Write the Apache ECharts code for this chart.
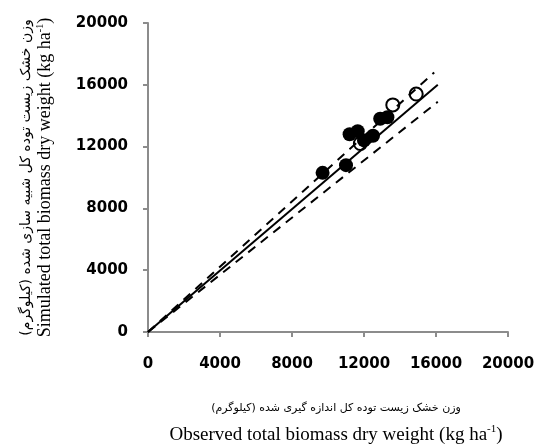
<!DOCTYPE html>
<html><head><meta charset="utf-8">
<script src="https://cdn.jsdelivr.net/npm/echarts@6/dist/echarts.min.js"></script>
<style>html,body{margin:0;padding:0;background:#fff}#c{width:537px;height:448px}</style>
</head><body><div id="c"></div>
<script>
const filledPoints = [[9700,10300],[11000,10800],[11200,12800],[11650,13000],[12000,12400],[12500,12700],[12900,13800],[13300,13900]];
const openPoints = [[11800,12200],[13600,14700],[14900,15400]];
const oneToOne = [[0,0],[16100,16000]];
const upperBound = [[0,0],[15900,16800]];
const lowerBound = [[0,0],[16100,14900]];
const axisTicks = ['0','4000','8000','12000','16000','20000'];

const xNameFa = 'وزن خشک زیست توده کل اندازه گیری شده (کیلوگرم)';
const xNameEn = 'Observed total biomass dry weight (kg ha';
const yNameFa = 'وزن خشک زیست توده کل شبیه سازی شده (کیلوگرم)';
const yNameEn = 'Simulated total biomass dry weight (kg ha';

const chart = echarts.init(document.getElementById('c'));
const richX = {
  fa: {fontFamily: 'DejaVu Sans, sans-serif', fontSize: 11, color: '#000', lineHeight: 32},
  en: {fontFamily: 'Liberation Serif, serif', fontSize: 19, color: '#000', lineHeight: 22},
  sup: {fontFamily: 'Liberation Serif, serif', fontSize: 11, color: '#000', verticalAlign: 'top', padding: [0,0,8,0]}
};
const richY = {
  fa: {fontFamily: 'DejaVu Sans, sans-serif', fontSize: 14, color: '#000', lineHeight: 18},
  en: {fontFamily: 'Liberation Serif, serif', fontSize: 18, color: '#000', lineHeight: 20},
  sup: {fontFamily: 'Liberation Serif, serif', fontSize: 10, color: '#000', verticalAlign: 'top', padding: [0,0,8,0]}
};
const fmt = v => axisTicks[Math.round(v / 4000)];
const axisCommon = {
  type: 'value', min: 0, max: 20000, interval: 4000,
  splitLine: {show: false},
  axisLine: {show: true, lineStyle: {color: '#8c8c8c', width: 2}},
  axisTick: {show: true, length: 5, lineStyle: {color: '#8c8c8c', width: 2}},
  axisLabel: {fontFamily: 'DejaVu Sans', fontWeight: 'bold', fontSize: 15, color: '#000', formatter: fmt}
};
chart.setOption({
  animation: false,
  grid: {left: 148, right: 29, top: 23, bottom: 116, containLabel: false, outerBoundsMode: 'none'},
  xAxis: Object.assign({}, axisCommon, {
    axisLabel: Object.assign({}, axisCommon.axisLabel, {margin: 25}),
    name: '{fa|' + xNameFa + '}\n{en|' + xNameEn + '}{sup|-1}{en|)}',
    nameLocation: 'middle', nameGap: 60,
    nameTextStyle: {rich: richX, padding: [0,0,0,16]}
  }),
  yAxis: Object.assign({}, axisCommon, {
    axisLabel: Object.assign({}, axisCommon.axisLabel, {margin: 20}),
    name: '{fa|' + yNameFa + '}\n{en|' + yNameEn + '}{sup|-1}{en|)}',
    nameLocation: 'middle', nameGap: 93,
    nameTextStyle: {rich: richY}
  }),
  series: [
    {type: 'line', data: oneToOne, symbol: 'none', lineStyle: {color: '#000', width: 2}},
    {type: 'line', data: upperBound, symbol: 'none', lineStyle: {color: '#000', width: 2, type: [9,7]}},
    {type: 'line', data: lowerBound, symbol: 'none', lineStyle: {color: '#000', width: 2, type: [9,7]}},
    {type: 'scatter', data: filledPoints, symbolSize: 14, itemStyle: {color: '#000', opacity: 1}},
    {type: 'scatter', data: openPoints, symbolSize: 13, itemStyle: {color: 'rgba(0,0,0,0)', borderColor: '#000', borderWidth: 2, opacity: 1}}
  ]
});
</script></body></html>
